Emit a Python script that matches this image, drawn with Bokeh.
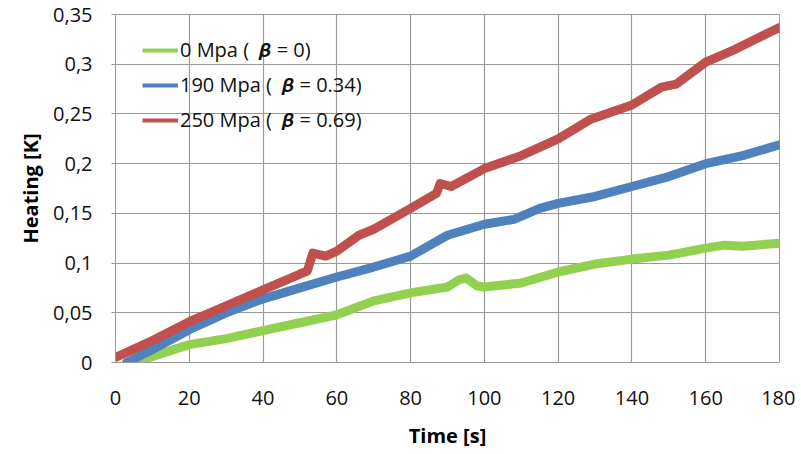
from bokeh.plotting import figure
from bokeh.models import Legend, LegendItem, FixedTicker, CustomJSTickFormatter, Range1d
from bokeh.embed import file_html
from bokeh.resources import INLINE

# --- data ---
t_green = [5, 10, 20, 30, 40, 50, 60, 70, 80, 90, 93, 95, 98, 100, 110, 120, 130, 140, 150, 160, 165, 170, 180]
v_green = [0.0, 0.006, 0.018, 0.024, 0.032, 0.040, 0.048, 0.062, 0.070, 0.076, 0.083, 0.085, 0.077, 0.076,
           0.080, 0.091, 0.099, 0.104, 0.108, 0.115, 0.118, 0.117, 0.120]

t_blue = [3, 10, 20, 30, 40, 50, 60, 70, 80, 90, 100, 108, 115, 120, 130, 140, 150, 160, 170, 180]
v_blue = [0.0, 0.013, 0.033, 0.050, 0.064, 0.075, 0.086, 0.096, 0.107, 0.128, 0.139, 0.144, 0.155, 0.160,
          0.167, 0.177, 0.187, 0.200, 0.208, 0.219]

t_red = [0, 10, 20, 30, 40, 50, 52, 53.5, 57, 60, 66, 70, 80, 87, 88, 91, 100, 110, 120, 129, 140, 148, 152,
         160, 168, 180]
v_red = [0.005, 0.022, 0.041, 0.057, 0.073, 0.089, 0.092, 0.110, 0.107, 0.112, 0.128, 0.134, 0.155, 0.170,
         0.180, 0.177, 0.195, 0.208, 0.225, 0.245, 0.259, 0.277, 0.280, 0.302, 0.315, 0.337]

labels = ["0 Mpa (  \U0001D737 = 0)", "190 Mpa (  \U0001D737 = 0.34)", "250 Mpa (  \U0001D737 = 0.69)"]
x_ticks = [0, 20, 40, 60, 80, 100, 120, 140, 160, 180]
y_ticks = [0, 0.05, 0.1, 0.15, 0.2, 0.25, 0.3, 0.35]

FONT = "Open Sans"
GRID = "#9a9a9a"
GREEN, BLUE, RED = "#92D050", "#4F81BD", "#C0504D"

p = figure(width=795, height=452, output_backend="svg", toolbar_location=None,
           x_range=Range1d(0, 180), y_range=Range1d(0, 0.35),
           min_border_left=115, min_border_right=16, min_border_top=14, min_border_bottom=90)

p.outline_line_color = GRID
p.outline_line_width = 1

for ax in (p.xaxis[0], p.yaxis[0]):
    ax.axis_line_color = GRID
    ax.major_tick_line_color = GRID
    ax.minor_tick_line_color = None
    ax.major_label_text_font = FONT
    ax.major_label_text_font_size = "20px"
    ax.major_label_text_color = "#111111"
    ax.axis_label_text_font = FONT
    ax.axis_label_text_font_size = "20px"
    ax.axis_label_text_font_style = "bold"
    ax.axis_label_text_color = "#000000"

p.xaxis.ticker = FixedTicker(ticks=x_ticks)
p.yaxis.ticker = FixedTicker(ticks=y_ticks)
p.xaxis.major_tick_out = 0
p.xaxis.major_tick_in = 0
p.yaxis.major_tick_out = 4
p.yaxis.major_tick_in = 0
p.xaxis.major_label_standoff = 28
p.yaxis.major_label_standoff = 19
p.xaxis.axis_label = "Time [s]"
p.yaxis.axis_label = "Heating [K]"
p.xaxis.axis_label_standoff = 14
p.yaxis.axis_label_standoff = 6
p.yaxis.formatter = CustomJSTickFormatter(code="""
    var s = tick.toFixed(2).replace(/0+$/, '').replace(/\\.$/, '');
    return s.replace('.', ',');
""")

p.xgrid.ticker = FixedTicker(ticks=x_ticks)
p.ygrid.ticker = FixedTicker(ticks=y_ticks)
p.xgrid.grid_line_color = GRID
p.ygrid.grid_line_color = GRID
p.xgrid.grid_line_width = 1.2
p.ygrid.grid_line_width = 1.2

rg = p.line(t_green, v_green, line_color=GREEN, line_width=9, line_join="round", line_cap="round")
rb = p.line(t_blue, v_blue, line_color=BLUE, line_width=9, line_join="round", line_cap="round")
rr = p.line(t_red, v_red, line_color=RED, line_width=9, line_join="round", line_cap="round")

# legend-only proxies with thinner lines (single point each, draws nothing in the plot)
lg = p.line(t_green[:1], v_green[:1], line_color=GREEN, line_width=4)
lb = p.line(t_blue[:1], v_blue[:1], line_color=BLUE, line_width=4)
lr = p.line(t_red[:1], v_red[:1], line_color=RED, line_width=4)

legend = Legend(items=[LegendItem(label=labels[0], renderers=[lg]),
                       LegendItem(label=labels[1], renderers=[lb]),
                       LegendItem(label=labels[2], renderers=[lr])],
                location=(27, 229))
legend.background_fill_alpha = 0
legend.border_line_color = None
legend.label_text_font = FONT
legend.label_text_font_size = "20px"
legend.label_text_color = "#111111"
legend.glyph_width = 36
legend.label_standoff = 2
legend.spacing = 8
legend.padding = 0
legend.margin = 0
legend.label_height = 26
p.add_layout(legend)

open("out.html", "w").write(file_html(p, INLINE))
